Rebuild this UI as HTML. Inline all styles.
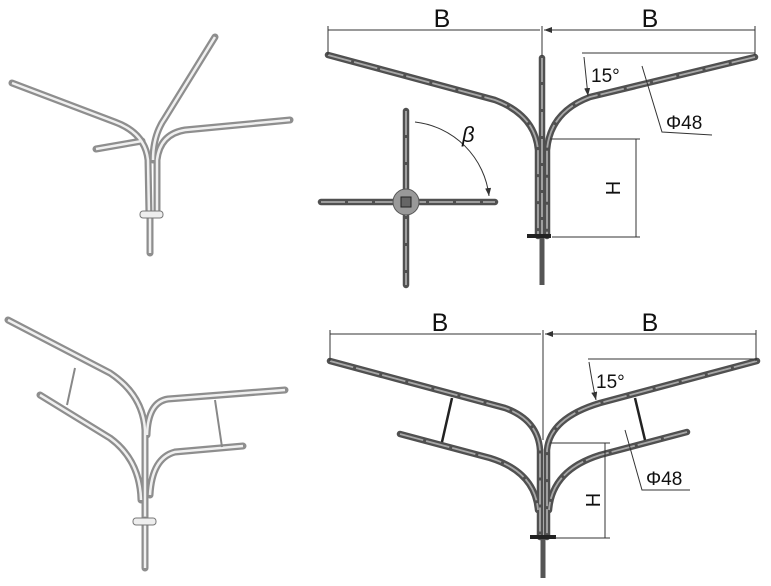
<!DOCTYPE html>
<html><head><meta charset="utf-8"><style>
html,body{margin:0;padding:0;background:#fff;width:771px;height:586px;overflow:hidden}
svg{display:block}
text{font-family:"Liberation Sans",sans-serif;fill:#111}
.po{fill:none;stroke:#505050;stroke-width:6.5;stroke-linecap:round}
.pi{fill:none;stroke:#a8a8a8;stroke-width:1.8;stroke-dasharray:24 3}
.lo{fill:none;stroke:#8e8e8e;stroke-width:7;stroke-linecap:round}
.li{fill:none;stroke:#f0f0f0;stroke-width:2.5}
.d{fill:none;stroke:#333;stroke-width:1}
</style></head><body>
<svg width="771" height="586" viewBox="0 0 771 586">
<defs>
<marker id="a" markerWidth="8" markerHeight="6" refX="8" refY="3" orient="auto" markerUnits="userSpaceOnUse"><path d="M0,0 L8,3 L0,6z" fill="#333"/></marker>
<g id="tl">
<path d="M12,83 L115,122 Q145,133 148,160 L149,215"/>
<path d="M96,149 L142,141"/>
<path d="M215,37 L165,118 Q153,135 153,160"/>
<path d="M290,120 L185,130 Q160,134 157,160 L157,215"/>
</g>
<g id="bl">
<path d="M8,320 L110,373 Q143,395 145,430 L145,520"/>
<path d="M40,395 L110,438 Q140,460 141,500"/>
<path d="M285,390 L168,399 Q148,402 147,435"/>
<path d="M243,446 L175,452 Q152,458 150,495"/>
</g>
<g id="tr">
<path d="M328,55 L495,100 Q535,115 538,150 L538,236"/>
<path d="M755,57 L590,97 Q550,112 547,150 L547,236"/>
<path d="M542,58 L542,236"/>
<path d="M406,111 L406,285"/><path d="M321,202 L495,202"/>
</g>
<g id="br">
<path d="M330,361 L505,408 Q538,420 540,450 L540,537"/>
<path d="M757,361 L600,403 Q550,418 547,450 L547,537"/>
<path d="M400,434 L490,458 Q535,472 538,510"/>
<path d="M687,432 L600,455 Q552,470 549,510"/>
</g>
</defs>
<use href="#tl" class="lo"/><use href="#tl" class="li"/>
<path d="M150,215 L150,253" class="lo"/><path d="M150,215 L150,253" class="li"/>
<rect x="140" y="211" width="23" height="7" rx="3" fill="#eee" stroke="#777"/>
<use href="#bl" class="lo"/><use href="#bl" class="li"/>
<path d="M145,520 L145,568" class="lo"/><path d="M145,520 L145,568" class="li"/>
<rect x="133" y="518" width="23" height="7" rx="3" fill="#eee" stroke="#777"/>
<path d="M75,368 L67,405 M215,400 L222,447" stroke="#888" stroke-width="2"/>
<use href="#tr" class="po"/><use href="#tr" class="pi"/>
<path d="M542,236 L542,285" stroke="#555" stroke-width="5"/>
<rect x="527" y="234" width="24" height="4" fill="#222"/>
<circle cx="406" cy="202" r="13" fill="#999" stroke="#555"/>
<rect x="401" y="197" width="10" height="10" fill="#666" stroke="#222"/>
<path d="M328,30 L540,30 M755,30 L544,30" class="d" marker-end="url(#a)"/>
<path d="M328,26 L328,55 M755,26 L755,55 M542,26 L542,56" class="d"/>
<text x="442" y="27" font-size="25" text-anchor="middle">B</text>
<text x="650" y="27" font-size="25" text-anchor="middle">B</text>
<path d="M582,53 L755,53" class="d"/>
<path d="M584,57 Q586,77 588,96" class="d" marker-end="url(#a)"/>
<text x="591" y="82" font-size="19">15°</text>
<path d="M642,66 L662,132 L712,135" class="d"/>
<text x="666" y="129" font-size="19">Φ48</text>
<path d="M550,139 L640,139 M552,237 L640,237" class="d"/>
<path d="M636,139 L636,237" class="d"/>
<text x="613" y="188" font-size="20" text-anchor="middle" transform="rotate(-90 613 188)" dy="7">H</text>
<path d="M415,122 A84,84 0 0 1 489,196" class="d" marker-end="url(#a)"/>
<text x="462" y="142" font-size="22" font-style="italic">β</text>
<use href="#br" class="po"/><use href="#br" class="pi"/>
<path d="M543,537 L543,578" stroke="#555" stroke-width="5"/>
<rect x="530" y="535" width="26" height="4" fill="#222"/>
<path d="M452,398 L442,442 M635,398 L645,440" stroke="#222" stroke-width="2.5"/>
<path d="M330,334 L541,334 M756,334 L545,334" class="d" marker-end="url(#a)"/>
<path d="M330,330 L330,361 M756,330 L756,361 M543,330 L543,440" class="d"/>
<text x="440" y="331" font-size="25" text-anchor="middle">B</text>
<text x="650" y="331" font-size="25" text-anchor="middle">B</text>
<path d="M588,359 L757,359" class="d"/>
<path d="M589,362 Q592,382 596,400" class="d" marker-end="url(#a)"/>
<text x="596" y="388" font-size="19">15°</text>
<path d="M625,430 L642,490 L690,490" class="d"/>
<text x="646" y="485" font-size="19">Φ48</text>
<path d="M550,443 L610,443 M555,538 L610,538" class="d"/>
<path d="M605,443 L605,538" class="d"/>
<text x="593" y="500" font-size="20" text-anchor="middle" transform="rotate(-90 593 500)" dy="7">H</text>
</svg>
</body></html>
